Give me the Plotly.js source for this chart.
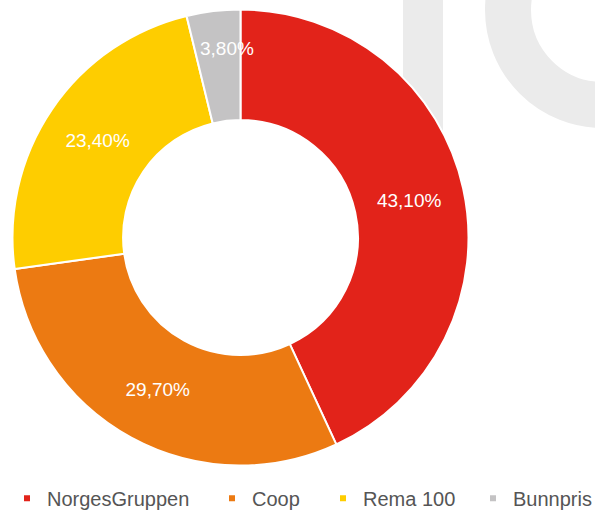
<!DOCTYPE html>
<html>
<head>
<meta charset="utf-8">
<script src="https://cdn.plot.ly/plotly-3.0.1.min.js"></script>
<style>html,body{margin:0;padding:0;background:#fff;}#chart{width:595px;height:511px;}</style>
</head>
<body>
<div id="chart"></div>
<script>
var categories = ["NorgesGruppen", "Coop", "Rema 100", "Bunnpris"];
var shares = [43.1, 29.7, 23.4, 3.8];
var colors = ["#e2231a", "#ec7a12", "#fecd00", "#c4c3c4"];
var labelsText = shares.map(function (v) { return v.toFixed(2).replace('.', ',') + '%'; });
// legend entry left edges (px) and which labels sit inside their slice
var legendX = [7, 212, 323, 473];
var insideFlags = [true, true, true, false];

var W = 595, H = 511;
var domX = [0.0210, 0.7874], domY = [0.0890, 0.9814];
var FONT = 'Liberation Sans, Arial, sans-serif';

var traces = [{
  type: 'pie',
  labels: categories,
  values: shares,
  text: labelsText,
  textinfo: 'text',
  hoverinfo: 'label+text',
  sort: false,
  direction: 'clockwise',
  rotation: 0,
  hole: 0.515,
  marker: {colors: colors, line: {color: '#ffffff', width: 2}},
  textposition: insideFlags.map(function (f) { return f ? 'inside' : 'none'; }),
  insidetextorientation: 'horizontal',
  textfont: {family: FONT, size: 19, color: '#ffffff'},
  showlegend: false,
  domain: {x: domX, y: domY}
}];

var legendNames = ['legend', 'legend2', 'legend3', 'legend4'];
categories.forEach(function (c, i) {
  traces.push({
    type: 'scatter',
    mode: 'markers',
    x: [null], y: [null],
    name: c,
    legend: legendNames[i],
    marker: {symbol: 'square', size: 6, color: colors[i]},
    showlegend: true,
    hoverinfo: 'skip'
  });
});

// labels for slices too thin for inside text: placed on the slice's mid angle
var total = shares.reduce(function (a, b) { return a + b; }, 0);
var cx = (domX[0] + domX[1]) / 2, cy = (domY[0] + domY[1]) / 2;
var R = Math.min((domX[1] - domX[0]) * W, (domY[1] - domY[0]) * H) / 2;
var annotations = [];
var cum = 0;
shares.forEach(function (v, i) {
  var mid = (cum + v / 2) / total * 2 * Math.PI;
  cum += v;
  if (!insideFlags[i]) {
    var r = 0.835 * R;
    annotations.push({
      xref: 'paper', yref: 'paper',
      x: cx + r * Math.sin(mid) / W,
      y: cy + r * Math.cos(mid) / H,
      xanchor: 'center', yanchor: 'middle', xshift: 9,
      text: labelsText[i], showarrow: false,
      font: {family: FONT, size: 19, color: '#ffffff'}
    });
  }
});

var layout = {
  width: W,
  height: H,
  margin: {l: 0, r: 0, t: 0, b: 0, autoexpand: false},
  paper_bgcolor: '#ffffff',
  plot_bgcolor: 'rgba(0,0,0,0)',
  xaxis: {visible: false, domain: [0, 0.01]},
  yaxis: {visible: false, domain: [0, 0.01]},
  showlegend: true,
  uniformtext: {mode: 'show', minsize: 19},
  annotations: annotations,
  shapes: [
    {type: 'rect', xref: 'paper', yref: 'paper', layer: 'below',
     x0: 403/W, x1: 443/W, y0: 0.5, y1: 1.0,
     fillcolor: '#ebebeb', line: {width: 0}},
    {type: 'circle', xref: 'paper', yref: 'paper', layer: 'below',
     x0: (603-95)/W, x1: (603+95)/W, y0: (H-10-95)/H, y1: (H-10+95)/H,
     fillcolor: 'rgba(0,0,0,0)', line: {color: '#ebebeb', width: 46}}
  ]
};
legendNames.forEach(function (ln, i) {
  layout[ln] = {
    orientation: 'h',
    xref: 'paper', yref: 'paper',
    x: legendX[i] / W, xanchor: 'left',
    y: -0.013, yanchor: 'bottom',
    font: {family: FONT, size: 20, color: '#555555'},
    itemwidth: 30,
    bgcolor: 'rgba(0,0,0,0)'
  };
});

Plotly.newPlot('chart', traces, layout, {displayModeBar: false, staticPlot: true});
</script>
</body>
</html>
